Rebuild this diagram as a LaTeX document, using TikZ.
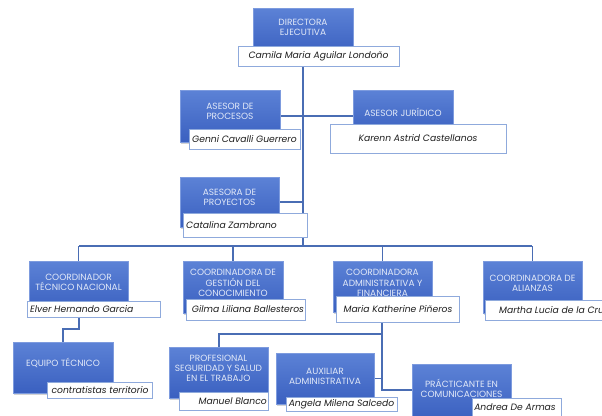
\documentclass[tikz,border=0pt]{standalone}
\usepackage{fontspec}
\setmainfont{Poppins}
\usetikzlibrary{shadows,backgrounds}
\definecolor{boxtop}{HTML}{5C82D6}
\definecolor{boxbot}{HTML}{3A60C0}
\definecolor{titletext}{HTML}{E2E9F8}
\definecolor{namebord}{HTML}{8FAADC}
\definecolor{conn}{HTML}{4A6DB4}
\definecolor{nametext}{HTML}{1E1E1E}
\tikzset{
  bluebox/.style={draw=boxtop!80!white, line width=0.4pt, top color=boxtop, bottom color=boxbot, inner sep=0pt,
     drop shadow={opacity=0.35, shadow xshift=1.2pt, shadow yshift=-1.5pt}},
  namebox/.style={draw=namebord, line width=1pt, fill=white, inner sep=0pt},
  ttl/.style={text=titletext, font=\fontsize{9}{10.2}\selectfont, align=center, inner sep=0pt},
  nm/.style={text=nametext, font=\fontsize{9.2}{10}\selectfont\itshape, inner sep=0pt},
  link/.style={draw=conn, line width=1.2pt}
}
\begin{document}
\begin{tikzpicture}[x=1pt,y=-1pt]
\useasboundingbox (0,0) rectangle (602,415);
\clip (0,0) rectangle (602,415);
\coordinate (mainL) at (79,246);
\coordinate (mainR) at (532,246);
\coordinate (top) at (303,246);
\coordinate (e1) at (79,329);
\coordinate (e2) at (63,329);
\coordinate (a1) at (382,334);
\coordinate (a2) at (219,334);
\coordinate (a3) at (382,390);
% boxes
\node[bluebox, minimum width=100pt, minimum height=47pt] (dir) at (303,31.5) {};
\node[bluebox, minimum width=100pt, minimum height=52pt] (proc) at (230,116) {};
\node[bluebox, minimum width=100pt, minimum height=45pt] (jur) at (403,112.5) {};
\node[bluebox, minimum width=99pt, minimum height=50pt] (proy) at (229.5,202) {};
\node[bluebox, minimum width=99pt, minimum height=51pt] (tec) at (78.5,286.5) {};
\node[bluebox, minimum width=100pt, minimum height=52pt] (ges) at (233,287) {};
\node[bluebox, minimum width=99pt, minimum height=51pt] (adm) at (382.5,286.5) {};
\node[bluebox, minimum width=99pt, minimum height=52pt] (ali) at (532.5,287) {};
\node[bluebox, minimum width=100pt, minimum height=51pt] (equ) at (63,367.5) {};
\node[bluebox, minimum width=99pt, minimum height=51pt] (pro) at (218.5,372.5) {};
\node[bluebox, minimum width=98pt, minimum height=51pt] (aux) at (325,378.5) {};
\node[bluebox, minimum width=99pt, minimum height=56pt] (pra) at (461.5,392) {};
% name boxes
\node[namebox, minimum width=161pt, minimum height=20pt] (dirN) at (318.5,56) {};
\node[namebox, minimum width=111pt, minimum height=20pt] (procN) at (244.5,139) {};
\node[namebox, minimum width=176pt, minimum height=29pt] (jurN) at (418,138.5) {};
\node[namebox, minimum width=124pt, minimum height=24pt] (proyN) at (245,225) {};
\node[namebox, minimum width=133pt, minimum height=16pt] (tecN) at (93.5,309) {};
\node[namebox, minimum width=119pt, minimum height=21pt] (gesN) at (245.5,309.5) {};
\node[namebox, minimum width=123pt, minimum height=26pt] (admN) at (397.5,309) {};
\node[namebox, minimum width=140pt, minimum height=20pt] (aliN) at (555,310) {};
\node[namebox, minimum width=105pt, minimum height=16pt] (equN) at (99.5,390) {};
\node[namebox, minimum width=89pt, minimum height=18pt] (proN) at (223.5,401) {};
\node[namebox, minimum width=111pt, minimum height=14pt] (auxN) at (341.5,404) {};
\node[namebox, minimum width=89pt, minimum height=20pt] (praN) at (516.5,408) {};
% titles
\node[ttl] (dirT) at (303,27) {DIRECTORA\\EJECUTIVA};
\node[ttl] (procT) at (230,111) {ASESOR DE\\PROCESOS};
\node[ttl] (jurT) at (403,112) {ASESOR JURÍDICO};
\node[ttl] (proyT) at (229.5,197.5) {ASESORA DE\\PROYECTOS};
\node[ttl] (tecT) at (78.5,282.5) {COORDINADOR\\TÉCNICO NACIONAL};
\node[ttl] (gesT) at (233,283) {COORDINADORA DE\\GESTIÓN DEL\\CONOCIMIENTO};
\node[ttl] (admT) at (382.5,283) {COORDINADORA\\ADMINISTRATIVA Y\\FINANCIERA};
\node[ttl] (aliT) at (532.5,283) {COORDINADORA DE\\ALIANZAS};
\node[ttl] (equT) at (63,363) {EQUIPO TÉCNICO};
\node[ttl] (proT) at (218.5,368.5) {PROFESIONAL\\SEGURIDAD Y SALUD\\EN EL TRABAJO};
\node[ttl] (auxT) at (325,376) {AUXILIAR\\ADMINISTRATIVA};
\node[ttl] (praT) at (461.5,388) {PRÁCTICANTE EN\\COMUNICACIONES};
% names
\node[nm] (dirX) at (318.5,56) {Camila Maria Aguilar Londoño};
\node[nm] (procX) at (244.5,139) {Genni Cavalli Guerrero};
\node[nm] (jurX) at (418,138.5) {Karenn Astrid Castellanos};
\node[nm, anchor=west] (proyX) at (186,225) {Catalina Zambrano};
\node[nm, anchor=west] (tecX) at (30,309) {Elver Hernando Garcia};
\node[nm] (gesX) at (248,309.5) {Gilma Liliana Ballesteros};
\node[nm] (admX) at (398,309) {Maria Katherine Piñeros};
\node[nm, anchor=west] (aliX) at (499,310) {Martha Lucia de la Cruz};
\node[nm] (equX) at (100,390) {contratistas territorio};
\node[nm, anchor=east] (proX) at (267,401) {Manuel Blanco};
\node[nm] (auxX) at (341.5,404) {Angela Milena Salcedo};
\node[nm] (praX) at (515,407) {Andrea De Armas};
% connectors
\begin{scope}[on background layer]
\draw[link] (dirN.south -| top) -- (top);
\draw[link] (proc.east) -- (proc.east -| jur.west);
\draw[link] (proy.east) -- (proy.east -| top);
\draw[link] (mainL) -- (mainR);
\draw[link] (tec.north |- mainL) -- (tec.north);
\draw[link] (ges.north |- mainL) -- (ges.north);
\draw[link] (adm.north |- mainL) -- (adm.north);
\draw[link] (ali.north |- mainL) -- (ali.north);
\draw[link] (tecN.south -| e1) -- (e1) -- (e2) -- (equ.north);
\draw[link] (admN.south -| a1) -- (a3) -- (pra.west |- a3);
\draw[link] (a1) -- (a2) -- (a2 |- pro.north);
\draw[link] (aux.east) -- (aux.east -| a1);
\end{scope}
\end{tikzpicture}
\end{document}
